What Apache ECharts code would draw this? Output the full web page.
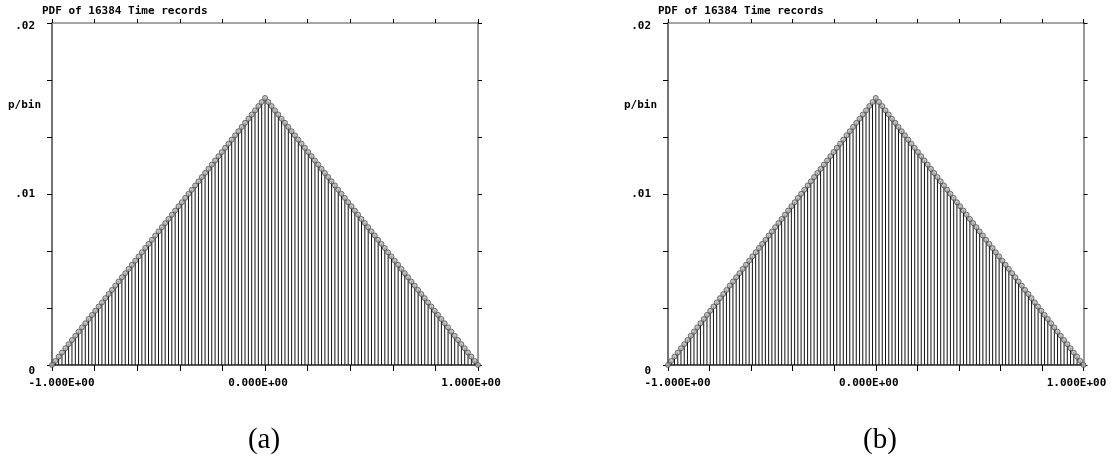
<!DOCTYPE html>
<html><head><meta charset="utf-8">
<script src="https://cdn.jsdelivr.net/npm/echarts@6/dist/echarts.min.js"></script>
<style>html,body{margin:0;padding:0;background:#fff}#c{width:1118px;height:473px}</style>
</head><body><div id="c"></div><script>
// Bin centres (x): 129 stems from -1 to 1
const binCenters = [
-1.0000,-0.9844,-0.9688,-0.9531,-0.9375,-0.9219,-0.9063,-0.8906,-0.8750,-0.8594,-0.8438,-0.8281,-0.8125,-0.7969,-0.7813,-0.7656,
-0.7500,-0.7344,-0.7188,-0.7031,-0.6875,-0.6719,-0.6563,-0.6406,-0.6250,-0.6094,-0.5938,-0.5781,-0.5625,-0.5469,-0.5313,-0.5156,
-0.5000,-0.4844,-0.4688,-0.4531,-0.4375,-0.4219,-0.4063,-0.3906,-0.3750,-0.3594,-0.3438,-0.3281,-0.3125,-0.2969,-0.2813,-0.2656,
-0.2500,-0.2344,-0.2188,-0.2031,-0.1875,-0.1719,-0.1563,-0.1406,-0.1250,-0.1094,-0.0938,-0.0781,-0.0625,-0.0469,-0.0313,-0.0156,
0.0000,
0.0156,0.0313,0.0469,0.0625,0.0781,0.0938,0.1094,0.1250,0.1406,0.1563,0.1719,0.1875,0.2031,0.2188,0.2344,0.2500,
0.2656,0.2813,0.2969,0.3125,0.3281,0.3438,0.3594,0.3750,0.3906,0.4063,0.4219,0.4375,0.4531,0.4688,0.4844,0.5000,
0.5156,0.5313,0.5469,0.5625,0.5781,0.5938,0.6094,0.6250,0.6406,0.6563,0.6719,0.6875,0.7031,0.7188,0.7344,0.7500,
0.7656,0.7813,0.7969,0.8125,0.8281,0.8438,0.8594,0.8750,0.8906,0.9063,0.9219,0.9375,0.9531,0.9688,0.9844,1.0000
];
// Probability per bin, panel (a)
const pdfA = [
0.00000,0.00024,0.00049,0.00073,0.00098,0.00122,0.00146,0.00171,0.00195,0.00220,0.00244,0.00269,0.00293,0.00317,0.00342,0.00366,
0.00391,0.00415,0.00439,0.00464,0.00488,0.00513,0.00537,0.00562,0.00586,0.00610,0.00635,0.00659,0.00684,0.00708,0.00732,0.00757,
0.00781,0.00806,0.00830,0.00854,0.00879,0.00903,0.00928,0.00952,0.00977,0.01001,0.01025,0.01050,0.01074,0.01099,0.01123,0.01147,
0.01172,0.01196,0.01221,0.01245,0.01270,0.01294,0.01318,0.01343,0.01367,0.01392,0.01416,0.01440,0.01465,0.01489,0.01514,0.01538,
0.01562,
0.01538,0.01514,0.01489,0.01465,0.01440,0.01416,0.01392,0.01367,0.01343,0.01318,0.01294,0.01270,0.01245,0.01221,0.01196,0.01172,
0.01147,0.01123,0.01099,0.01074,0.01050,0.01025,0.01001,0.00977,0.00952,0.00928,0.00903,0.00879,0.00854,0.00830,0.00806,0.00781,
0.00757,0.00732,0.00708,0.00684,0.00659,0.00635,0.00610,0.00586,0.00562,0.00537,0.00513,0.00488,0.00464,0.00439,0.00415,0.00391,
0.00366,0.00342,0.00317,0.00293,0.00269,0.00244,0.00220,0.00195,0.00171,0.00146,0.00122,0.00098,0.00073,0.00049,0.00024,0.00000
];
// Probability per bin, panel (b) (identical in the picture)
const pdfB = pdfA.slice();

const xTicks = [-1, 0, 1];
const xTickLabels = ['-1.000E+00', '0.000E+00', '1.000E+00'];
const yTicks = [0, 0.01, 0.02];
const yTickLabels = ['0', '.01', '.02'];
const panelTitle = 'PDF of 16384 Time records';
const yName = 'p/bin';
const captions = ['(a)', '(b)'];

const MONO = '"DejaVu Sans Mono", "Liberation Mono", monospace';
const txt = {fontFamily: MONO, fontWeight: 'bold', fontSize: 11, color: '#000'};

const panelLefts = [52, 668];
const grids = [], xAxes = [], yAxes = [], series = [], titles = [];

function xFmt(v) {
  for (let i = 0; i < xTicks.length; i++) {
    if (Math.abs(v - xTicks[i]) < 1e-6) {
      return i === 0 ? '{p| }{t|' + xTickLabels[i] + '}' : '{t|' + xTickLabels[i] + '}{q| }';
    }
  }
  return '';
}
function yFmt(v) {
  for (let i = 0; i < yTicks.length; i++) {
    if (Math.abs(v - yTicks[i]) < 1e-5) {
      if (i === 0) return '{z|' + yTickLabels[i] + '}';
      if (i === 2) return '{w|' + yTickLabels[i] + '}';
      return '{t|' + yTickLabels[i] + '}';
    }
  }
  return '';
}

[pdfA, pdfB].forEach((vals, i) => {
  const L = panelLefts[i];
  grids.push({left: L, top: 23, width: 426, height: 342});
  const pts = binCenters.map((x, k) => [x, vals[k]]);
  const baseX = {type: 'value', gridIndex: i, min: -1, max: 1, interval: 0.2,
    splitLine: {show: false}};
  xAxes.push(Object.assign({}, baseX, {
    position: 'bottom',
    axisLine: {show: true, onZero: false, lineStyle: {color: '#222', width: 1.6}},
    axisTick: {show: true, inside: false, length: 6, lineStyle: {color: '#000', width: 1}},
    axisLabel: {show: true, showMinLabel: true, showMaxLabel: true, margin: 12, formatter: xFmt,
      rich: {t: txt, p: {width: 19}, q: {width: 14}}}
  }));
  xAxes.push(Object.assign({}, baseX, {
    position: 'top',
    axisLine: {show: true, onZero: false, lineStyle: {color: '#888', width: 1.5}},
    axisTick: {show: true, inside: false, length: 4, lineStyle: {color: '#000', width: 1}},
    axisLabel: {show: false}
  }));
  const baseY = {type: 'value', gridIndex: i, min: 0, max: 0.02, interval: 0.02 / 6,
    splitLine: {show: false}};
  yAxes.push(Object.assign({}, baseY, {
    position: 'left',
    axisLine: {show: true, onZero: false, lineStyle: {color: '#444', width: 1.5}},
    axisTick: {show: true, inside: false, length: 5, lineStyle: {color: '#000', width: 1}},
    axisLabel: {show: true, showMinLabel: true, showMaxLabel: true, margin: 17, formatter: yFmt,
      rich: {t: txt, z: Object.assign({}, txt, {padding: [12, 0, 0, 0]}),
             w: Object.assign({}, txt, {padding: [6, 0, 0, 0]})}}
  }));
  yAxes.push(Object.assign({}, baseY, {
    position: 'right',
    axisLine: {show: true, onZero: false, lineStyle: {color: '#999', width: 2}},
    axisTick: {show: true, inside: false, length: 4, lineStyle: {color: '#000', width: 1}},
    axisLabel: {show: false}
  }));
  series.push({
    type: 'custom', xAxisIndex: 2 * i, yAxisIndex: 2 * i, data: pts, encode: {x: 0, y: 1},
    clip: false, z: 2,
    renderItem: (params, api) => {
      const x = api.value(0), y = api.value(1);
      const p0 = api.coord([x, 0]), p1 = api.coord([x, y]);
      return {type: 'line', shape: {x1: p0[0], y1: p0[1], x2: p1[0], y2: p1[1]},
        style: {stroke: '#111', lineWidth: 1}};
    }
  });
  series.push({
    type: 'scatter', xAxisIndex: 2 * i, yAxisIndex: 2 * i, data: pts, z: 3,
    symbol: 'circle', symbolSize: 5,
    itemStyle: {color: '#b4b4b4', borderColor: '#333', borderWidth: 0.8}
  });
  titles.push({text: panelTitle, left: L - 10, top: 6, padding: 0, textStyle: Object.assign({}, txt)});
  titles.push({text: yName, left: L - 44, top: 100, padding: 0, textStyle: Object.assign({}, txt)});
  titles.push({text: captions[i], left: L + 212, top: 426, padding: 0, textAlign: 'center',
    textStyle: {fontFamily: '"Liberation Serif", "DejaVu Serif", serif', fontWeight: 'normal', fontSize: 29, color: '#000'}});
});

const chart = echarts.init(document.getElementById('c'), null, {renderer: 'canvas'});
chart.setOption({
  animation: false,
  backgroundColor: '#fff',
  title: titles,
  grid: grids,
  xAxis: xAxes,
  yAxis: yAxes,
  series: series
});
</script></body></html>
